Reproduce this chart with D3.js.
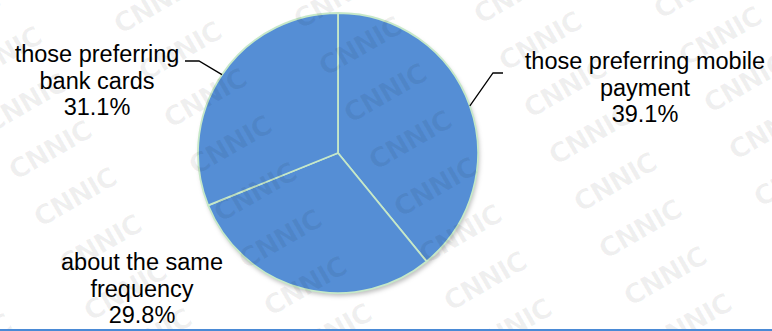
<!DOCTYPE html>
<html>
<head>
<meta charset="utf-8">
<script src="https://cdn.jsdelivr.net/npm/d3@7"></script>
<style>
  html, body { margin: 0; padding: 0; background: #ffffff; }
  svg { display: block; }
</style>
</head>
<body>
<svg id="chart" width="772" height="331"></svg>
<script>
// Share of online payment preference
const categories = ["those preferring mobile payment", "about the same frequency", "those preferring bank cards"];
const values = [39.1, 29.8, 31.1];
const labelLines = [
  ["those preferring mobile", "payment"],
  ["about the same", "frequency"],
  ["those preferring", "bank cards"]
];
const watermarkText = "CNNIC";

const W = 772, H = 331;
const svg = d3.select("#chart");
const cx = 338, cy = 153, r = 140;

const defs = svg.append("defs");
const shadow = defs.append("filter").attr("id", "pieShadow")
  .attr("x", "-10%").attr("y", "-10%").attr("width", "120%").attr("height", "125%");
shadow.append("feDropShadow").attr("dx", 1.5).attr("dy", 3).attr("stdDeviation", 2.2)
  .attr("flood-color", "#000").attr("flood-opacity", 0.25);

const rows = categories.map((c, i) => ({ name: c, value: values[i], lines: labelLines[i] }));

const pie = d3.pie().sort(null).value(d => d.value).startAngle(0).endAngle(2 * Math.PI);
const arcs = pie(rows);
const arc = d3.arc().innerRadius(0).outerRadius(r);

const g = svg.append("g").attr("transform", `translate(${cx},${cy})`);

// pie body with soft shadow underneath
g.append("circle").attr("r", r).attr("fill", "#558ed5").attr("filter", "url(#pieShadow)");

g.selectAll("path.slice").data(arcs).join("path")
  .attr("class", "slice")
  .attr("d", arc)
  .attr("fill", "#558ed5")
  .attr("stroke", "#c6e8c8")
  .attr("stroke-width", 1.8)
  .attr("stroke-linejoin", "round");

// faint diagonal watermark tiling across the whole frame
const wm = svg.append("g").attr("pointer-events", "none");
const v1 = [25, 47], v2 = [180, -5];
for (let i = -6; i <= 8; i++) {
  for (let j = -3; j <= 6; j++) {
    const x = 50 + i * v1[0] + j * v2[0];
    const y = 150 + i * v1[1] + j * v2[1];
    if (x < -50 || x > W + 50 || y < -25 || y > H + 25) continue;
    wm.append("text")
      .attr("transform", `translate(${x},${y}) rotate(-30)`)
      .attr("text-anchor", "middle")
      .attr("dominant-baseline", "central")
      .attr("font-family", "'DejaVu Sans', sans-serif")
      .attr("font-weight", "bold")
      .attr("font-size", 27)
      .attr("letter-spacing", -1)
      .attr("fill", "#000")
      .attr("fill-opacity", 0.06)
      .text(watermarkText);
  }
}

// label placement: text centre x, first baseline y, and leader elbow (if any)
const labelLayout = [
  { x: 645, y: 69, elbow: [493, 73], end: [503, 73] },
  { x: 142, y: 270, elbow: null },
  { x: 97, y: 62, elbow: [199, 61], end: [185, 61] }
];
const lineH = 26.7;

arcs.forEach((a, i) => {
  const L = labelLayout[i];
  if (L.elbow) {
    const mid = (a.startAngle + a.endAngle) / 2;
    const sx = cx + r * Math.sin(mid), sy = cy - r * Math.cos(mid);
    svg.append("polyline")
      .attr("points", [[sx, sy], L.elbow, L.end].map(p => p.join(",")).join(" "))
      .attr("fill", "none").attr("stroke", "#000").attr("stroke-width", 1.3);
  }
  const t = svg.append("text")
    .attr("text-anchor", "middle")
    .attr("font-family", "'Liberation Sans', Arial, sans-serif")
    .attr("font-size", 23.5)
    .attr("fill", "#000");
  const lines = a.data.lines.concat([d3.format(".1f")(a.data.value) + "%"]);
  lines.forEach((ln, k) => {
    t.append("tspan").attr("x", L.x).attr("y", L.y + k * lineH).text(ln);
  });
});

// bottom rule
svg.append("line")
  .attr("x1", 0).attr("x2", W).attr("y1", 330).attr("y2", 330)
  .attr("stroke", "#4a8ad6").attr("stroke-width", 2);
</script>
</body>
</html>
